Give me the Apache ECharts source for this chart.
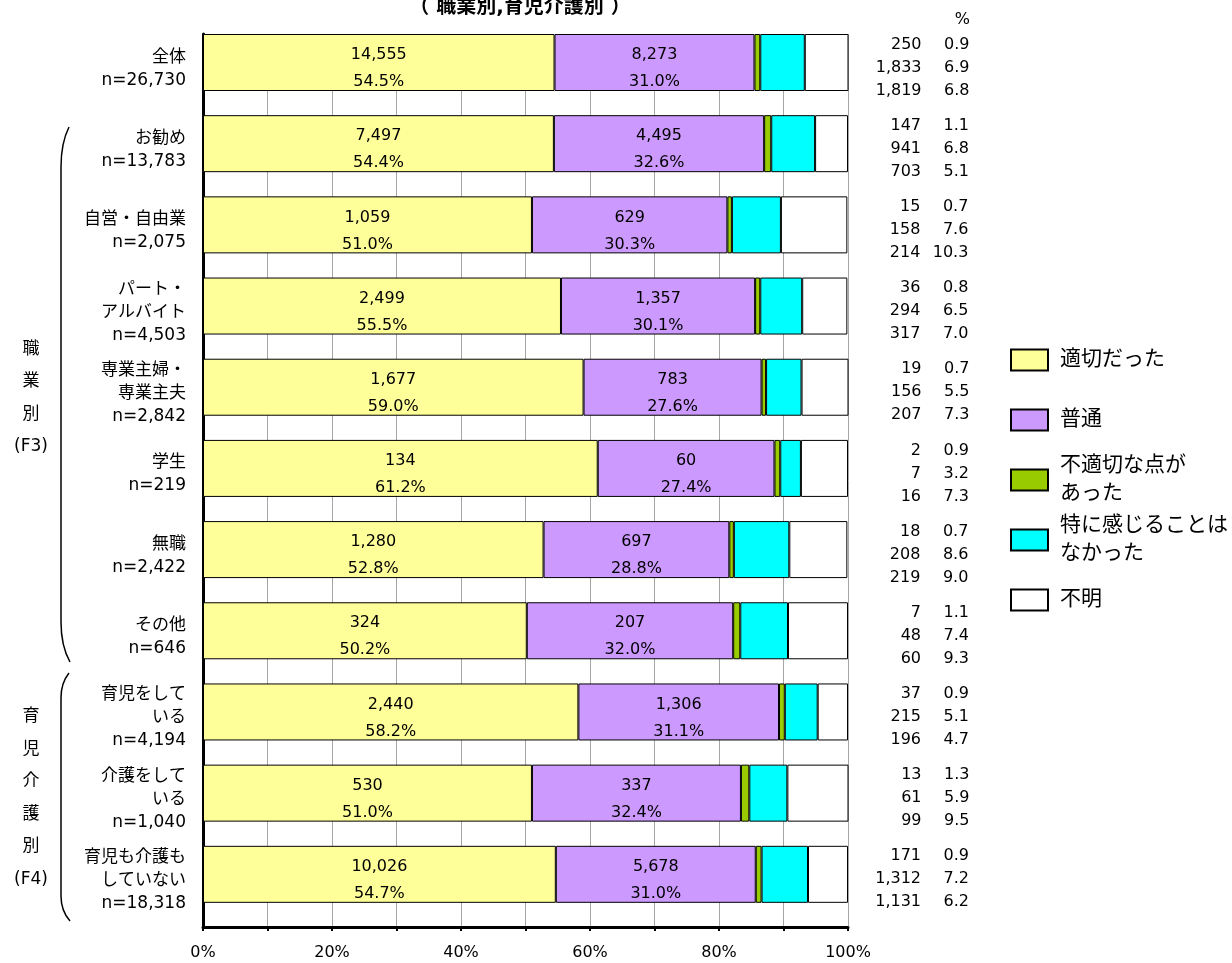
<!DOCTYPE html>
<html>
<head>
<meta charset="utf-8">
<script src="https://cdn.jsdelivr.net/npm/echarts@6/dist/echarts.min.js"></script>
<style>
  html, body { margin: 0; padding: 0; background: #fff; }
  #chart { width: 1232px; height: 963px; }
</style>
</head>
<body>
<div id="chart"></div>
<script>
// categories (top to bottom)
const categories = [
  '全体\nn=26,730', 'お勧め\nn=13,783', '自営・自由業\nn=2,075',
  'パート・\nアルバイト\nn=4,503', '専業主婦・\n専業主夫\nn=2,842', '学生\nn=219',
  '無職\nn=2,422', 'その他\nn=646', '育児をして\nいる\nn=4,194',
  '介護をして\nいる\nn=1,040', '育児も介護も\nしていない\nn=18,318'
];
const seriesNames = ['適切だった', '普通', '不適切な点が\nあった', '特に感じることは\nなかった', '不明'];
const colors = ['#FFFF99', '#CC99FF', '#99CC00', '#00FFFF', '#FFFFFF'];

// counts and percentages per answer
const tekisetsuCount = [14555, 7497, 1059, 2499, 1677, 134, 1280, 324, 2440, 530, 10026];
const tekisetsuPct = [54.5, 54.4, 51.0, 55.5, 59.0, 61.2, 52.8, 50.2, 58.2, 51.0, 54.7];
const futsuCount = [8273, 4495, 629, 1357, 783, 60, 697, 207, 1306, 337, 5678];
const futsuPct = [31.0, 32.6, 30.3, 30.1, 27.6, 27.4, 28.8, 32.0, 31.1, 32.4, 31.0];
const futekisetsuCount = [250, 147, 15, 36, 19, 2, 18, 7, 37, 13, 171];
const futekisetsuPct = [0.9, 1.1, 0.7, 0.8, 0.7, 0.9, 0.7, 1.1, 0.9, 1.3, 0.9];
const tokuniCount = [1833, 941, 158, 294, 156, 7, 208, 48, 215, 61, 1312];
const tokuniPct = [6.9, 6.8, 7.6, 6.5, 5.5, 3.2, 8.6, 7.4, 5.1, 5.9, 7.2];
const fumeiCount = [1819, 703, 214, 317, 207, 16, 219, 60, 196, 99, 1131];
const fumeiPct = [6.8, 5.1, 10.3, 7.0, 7.3, 7.3, 9.0, 9.3, 4.7, 9.5, 6.2];

const FONT = "'DejaVu Sans', 'Noto Sans CJK JP', sans-serif";
const fmt = v => v.toLocaleString('en-US');

const chart = echarts.init(document.getElementById('chart'));

function inLabel(counts, pcts) {
  return {
    show: true,
    position: 'inside',
    offset: [0, 6],
    color: '#000',
    fontSize: 16,
    fontFamily: FONT,
    lineHeight: 27,
    formatter: p => fmt(counts[p.dataIndex]) + '\n' + pcts[p.dataIndex].toFixed(1) + '%'
  };
}

const sideRows = [[futekisetsuCount, futekisetsuPct], [tokuniCount, tokuniPct], [fumeiCount, fumeiPct]];

function barSeries(i, data, label) {
  return {
    name: seriesNames[i],
    type: 'bar',
    stack: 'total',
    barWidth: 57,
    barGap: '0%',
    data: data,
    itemStyle: { color: colors[i], borderColor: '#000', borderWidth: 1 },
    label: label || { show: false },
    emphasis: { disabled: true },
    animation: false
  };
}

const legends = seriesNames.map((name, i) => {
  const centers = [360, 420, 480, 540, 600];
  const twoLine = name.indexOf('\n') >= 0;
  return {
    data: [name],
    icon: 'rect',
    left: 1005,
    top: centers[i] - (twoLine ? 28 : 14) - 5,
    itemWidth: 37,
    itemHeight: 21,
    selectedMode: false,
    textStyle: { fontSize: 21, lineHeight: 28, color: '#000', fontFamily: FONT, padding: [0, 0, 0, 7] }
  };
});

// bracket = curve + straight line + curve
function bracket(x, top, bottom, curl) {
  const s = { stroke: '#000', lineWidth: 1.5, fill: null };
  return [
    { type: 'bezierCurve', shape: { x1: x + 8, y1: top, cpx1: x, cpy1: top + curl * 0.4, x2: x, y2: top + curl }, style: s },
    { type: 'line', shape: { x1: x, y1: top + curl, x2: x, y2: bottom - curl }, style: s },
    { type: 'bezierCurve', shape: { x1: x, y1: bottom - curl, cpx1: x, cpy1: bottom - curl * 0.4, x2: x + 9, y2: bottom }, style: s }
  ];
}

chart.setOption({
  animation: false,
  title: {
    text: '（ 職業別,育児介護別 ）',
    left: 515,
    textAlign: 'center',
    top: -7,
    textStyle: { fontSize: 20, fontWeight: 'bold', color: '#000', fontFamily: FONT }
  },
  legend: legends,
  grid: { left: 203, right: 384, top: 34, bottom: 36 },
  xAxis: {
    type: 'value',
    min: 0,
    max: 100,
    interval: 10,
    axisLine: { show: true, lineStyle: { color: '#000', width: 3 } },
    axisTick: { show: true, length: 4, lineStyle: { color: '#000', width: 2 } },
    splitLine: { show: true, lineStyle: { color: '#a6a6a6', width: 1 } },
    axisLabel: {
      color: '#000', fontSize: 16, fontFamily: FONT, margin: 18,
      formatter: v => (v % 20 === 0 ? v + '%' : '')
    }
  },
  yAxis: {
    type: 'category',
    inverse: true,
    data: categories,
    axisLine: { show: true, lineStyle: { color: '#000', width: 3 } },
    axisTick: { show: false },
    axisLabel: {
      interval: 0,
      margin: 17,
      // a short blank last line lifts the label block a little above the band centre
      formatter: v => v.split('\n').map(s => '{t|' + s + '}').join('\n') + '\n{pad| }',
      rich: {
        t: { color: '#000', fontSize: 17, fontFamily: FONT, lineHeight: 23, align: 'right' },
        pad: { fontSize: 4, lineHeight: 12 }
      }
    }
  },
  series: [
    barSeries(0, tekisetsuPct, inLabel(tekisetsuCount, tekisetsuPct)),
    barSeries(1, futsuPct, inLabel(futsuCount, futsuPct)),
    barSeries(2, futekisetsuPct),
    barSeries(3, tokuniPct),
    barSeries(4, fumeiPct, {
      show: true,
      position: 'right',
      distance: 8,
      offset: [0, 5],
      color: '#000',
      fontSize: 16,
      fontFamily: FONT,
      formatter: p => sideRows.map(([c, q]) =>
        '{n|' + fmt(c[p.dataIndex]) + '}{p|' + q[p.dataIndex].toFixed(1) + '}').join('\n'),
      rich: {
        n: { width: 65, align: 'right', lineHeight: 23, fontSize: 16, fontFamily: FONT, color: '#000' },
        p: { width: 48, align: 'right', lineHeight: 23, fontSize: 16, fontFamily: FONT, color: '#000' }
      }
    }),
    // empty spacer stack: keeps each bar at the top of its category band
    {
      name: 'spacer',
      type: 'bar',
      stack: 'spacer',
      barWidth: 24.18,
      barGap: '0%',
      data: [],
      silent: true,
      animation: false
    }
  ],
  graphic: [
    {
      type: 'text',
      style: { text: '%', x: 970, y: 20, align: 'right', verticalAlign: 'middle', fontSize: 16, fontFamily: FONT, fill: '#000' }
    },
    {
      type: 'text',
      style: { text: '職\n業\n別\n(F3)', x: 31, y: 398, align: 'center', verticalAlign: 'middle', lineHeight: 32.5, fontSize: 17, fontFamily: FONT, fill: '#000' }
    },
    {
      type: 'text',
      style: { text: '育\n児\n介\n護\n別\n(F4)', x: 31, y: 798, align: 'center', verticalAlign: 'middle', lineHeight: 32.6, fontSize: 17, fontFamily: FONT, fill: '#000' }
    }
  ].concat(bracket(61, 127, 662, 40), bracket(61, 673, 921, 25))
});
</script>
</body>
</html>
